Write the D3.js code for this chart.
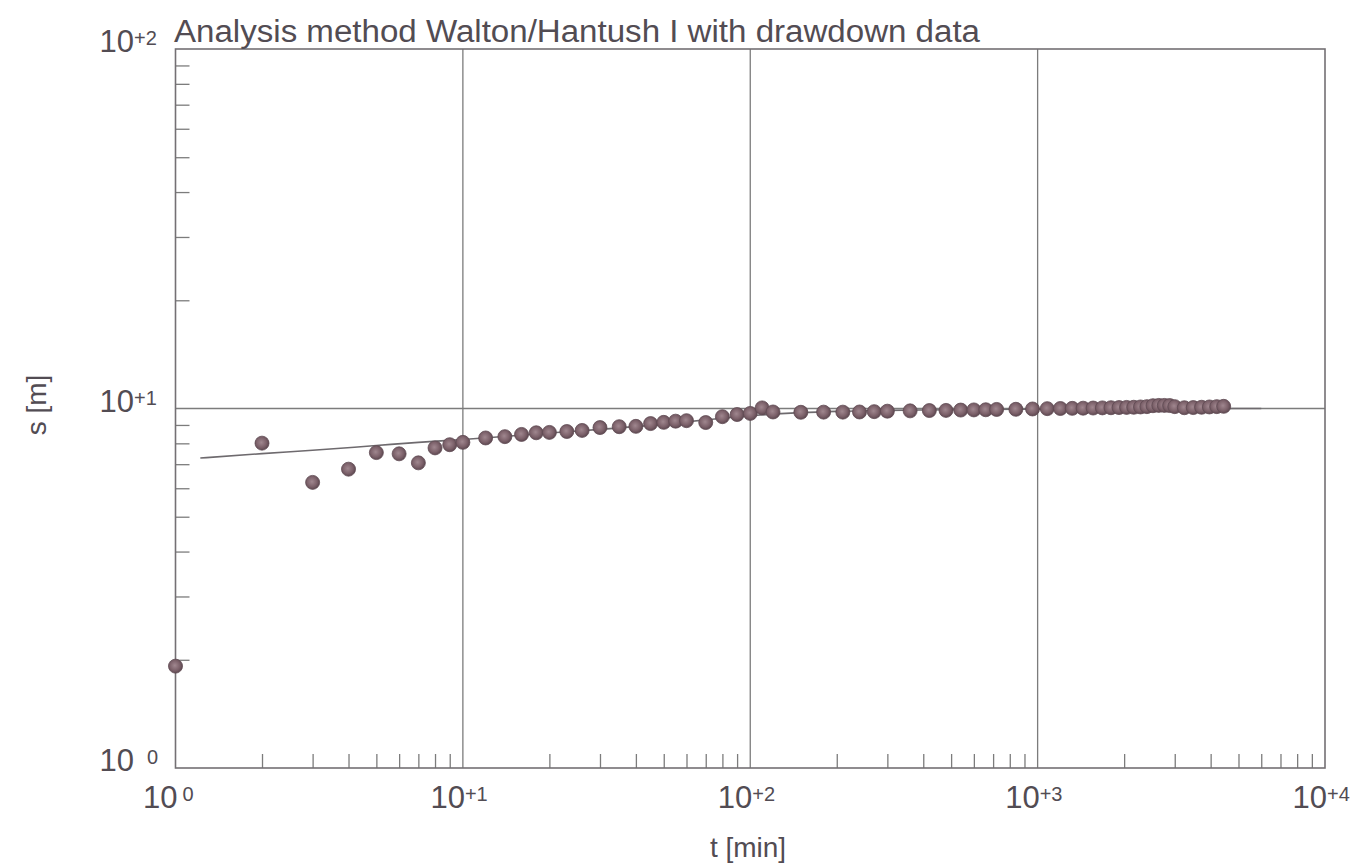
<!DOCTYPE html>
<html>
<head>
<meta charset="utf-8">
<title>Walton/Hantush I drawdown analysis</title>
<script src="https://cdn.jsdelivr.net/npm/d3@7"></script>
<style>
  html, body { margin: 0; padding: 0; background: #ffffff; }
  svg { display: block; }
  text { font-family: "Liberation Sans", Arial, Helvetica, sans-serif; fill: #524c53; }
</style>
</head>
<body>
<svg id="chart" width="1362" height="865"></svg>
<script>
// Observed drawdown: time since pumping started [min] and drawdown [m]
const obsTime = [1, 2, 3, 4, 5, 6, 7, 8, 9, 10,
  12, 14, 16, 18, 20, 23, 26, 30, 35, 40, 45, 50, 55, 60, 70, 80, 90, 100, 110, 120,
  150, 180, 210, 240, 270, 300, 360, 420, 480, 540, 600, 660, 720, 840, 960,
  1080, 1200, 1320, 1440, 1560, 1680, 1800, 1920, 2040, 2160, 2280, 2400,
  2520, 2640, 2760, 2880, 3000, 3240, 3480, 3720, 3960, 4200, 4440];
const obsDrawdown = [1.92, 8.01, 6.23, 6.78, 7.54, 7.48, 7.06, 7.77, 7.93, 8.05,
  8.28, 8.35, 8.47, 8.56, 8.58, 8.63, 8.69, 8.85, 8.90, 8.92, 9.08, 9.15, 9.22, 9.25, 9.14, 9.49, 9.62, 9.69, 10.04, 9.78,
  9.76, 9.77, 9.77, 9.78, 9.80, 9.83, 9.85, 9.87, 9.88, 9.90, 9.91, 9.92, 9.94, 9.95, 9.97,
  9.99, 10.00, 10.01, 10.02, 10.03, 10.04, 10.05, 10.06, 10.07, 10.08, 10.10, 10.12,
  10.18, 10.20, 10.20, 10.19, 10.12, 10.05, 10.06, 10.08, 10.10, 10.12, 10.14];

// Fitted Walton/Hantush type curve
const fitTime = [1.22, 2, 3, 5, 7, 10, 15, 20, 30, 50, 70, 100, 150, 200, 300, 500, 1000, 2000, 4000, 6000];
const fitDrawdown = [7.28, 7.49, 7.65, 7.89, 8.05, 8.20, 8.40, 8.55, 8.75, 9.05, 9.30, 9.55, 9.74, 9.82, 9.88, 9.92, 9.96, 9.98, 10.0, 10.0];

// Axis decades and their exponent labels
const xDecades = [1, 10, 100, 1000, 10000];
const xExponents = ["0", "+1", "+2", "+3", "+4"];
const yDecades = [1, 10, 100];
const yExponents = ["0", "+1", "+2"];

const titleText = "Analysis method Walton/Hantush I with drawdown data";
const xTitle = "t [min]";
const yTitle = "s [m]";

const svg = d3.select("#chart");
const plot = { left: 175.5, right: 1325, top: 49, bottom: 768 };

const x = d3.scaleLog().domain([1, 10000]).range([plot.left, plot.right]);
const y = d3.scaleLog().domain([1, 100]).range([plot.bottom, plot.top]);

const gridColor = "#7c7c7c";

// minor ticks 2..9 in every decade
const minorX = x.ticks().filter(v => !xDecades.includes(v));
const minorY = y.ticks().filter(v => !yDecades.includes(v));

// decade grid lines
svg.append("g").selectAll("line.vgrid")
  .data(xDecades.slice(1, -1))
  .join("line")
  .attr("x1", d => x(d)).attr("x2", d => x(d))
  .attr("y1", plot.top).attr("y2", plot.bottom)
  .attr("stroke", gridColor).attr("stroke-width", 1.3);

svg.append("g").selectAll("line.hgrid")
  .data(yDecades.slice(1, -1))
  .join("line")
  .attr("x1", plot.left).attr("x2", plot.right)
  .attr("y1", d => y(d)).attr("y2", d => y(d))
  .attr("stroke", gridColor).attr("stroke-width", 1.3);

// minor tick marks pointing into the plot
const xAxis = svg.append("g")
  .attr("transform", `translate(0,${plot.bottom})`)
  .call(d3.axisBottom(x).tickValues(minorX).tickSize(-14).tickFormat(""));
xAxis.select(".domain").remove();
xAxis.selectAll("line").attr("stroke", gridColor).attr("stroke-width", 1.3);

const yAxis = svg.append("g")
  .attr("transform", `translate(${plot.left},0)`)
  .call(d3.axisLeft(y).tickValues(minorY).tickSize(-14).tickFormat(""));
yAxis.select(".domain").remove();
yAxis.selectAll("line").attr("stroke", gridColor).attr("stroke-width", 1.3);

// plot frame
svg.append("rect")
  .attr("x", plot.left).attr("y", plot.top)
  .attr("width", plot.right - plot.left).attr("height", plot.bottom - plot.top)
  .attr("fill", "none").attr("stroke", "#747074").attr("stroke-width", 1.6);

// fitted curve
const line = d3.line()
  .x((d, i) => x(fitTime[i]))
  .y((d, i) => y(fitDrawdown[i]))
  .curve(d3.curveMonotoneX);
svg.append("path")
  .datum(fitTime)
  .attr("d", line)
  .attr("fill", "none")
  .attr("stroke", "#6e6a6e")
  .attr("stroke-width", 1.6);

// observation markers
const defs = svg.append("defs");
const grad = defs.append("radialGradient").attr("id", "dot").attr("cx", "45%").attr("cy", "45%").attr("r", "55%");
grad.append("stop").attr("offset", "0%").attr("stop-color", "#a0878f");
grad.append("stop").attr("offset", "65%").attr("stop-color", "#7c616a");
grad.append("stop").attr("offset", "100%").attr("stop-color", "#5e4951");

svg.append("g").selectAll("circle")
  .data(obsTime)
  .join("circle")
  .attr("cx", (d, i) => x(obsTime[i]))
  .attr("cy", (d, i) => y(obsDrawdown[i]))
  .attr("r", 7)
  .attr("fill", "url(#dot)")
  .attr("stroke", "#5f4a53")
  .attr("stroke-width", 0.8);

// decade labels: "10" with a raised exponent
const mainSize = 31, supSize = 20;
xDecades.forEach((d, i) => {
  const px = x(d) + 2;
  svg.append("text").attr("x", px).attr("y", 808)
    .attr("text-anchor", "end").attr("font-size", mainSize).text("10");
  const exp = xExponents[i];
  svg.append("text").attr("x", px + (exp === "0" ? 5 : 0)).attr("y", 801)
    .attr("font-size", supSize).text(exp);
});

yDecades.forEach((d, i) => {
  const py = y(d) + 3;
  svg.append("text").attr("x", 134).attr("y", py)
    .attr("text-anchor", "end").attr("font-size", mainSize).text("10");
  const exp = yExponents[i];
  svg.append("text").attr("x", exp === "0" ? 147 : 134).attr("y", py - 7)
    .attr("font-size", supSize).text(exp);
});

// title and axis titles
svg.append("text")
  .attr("x", 174).attr("y", 42)
  .attr("font-size", 31)
  .attr("textLength", 806).attr("lengthAdjust", "spacingAndGlyphs")
  .text(titleText);

svg.append("text")
  .attr("x", 748).attr("y", 857)
  .attr("text-anchor", "middle").attr("font-size", 28)
  .text(xTitle);

svg.append("text")
  .attr("transform", "translate(46,405) rotate(-90)")
  .attr("text-anchor", "middle").attr("font-size", 28)
  .text(yTitle);
</script>
</body>
</html>
